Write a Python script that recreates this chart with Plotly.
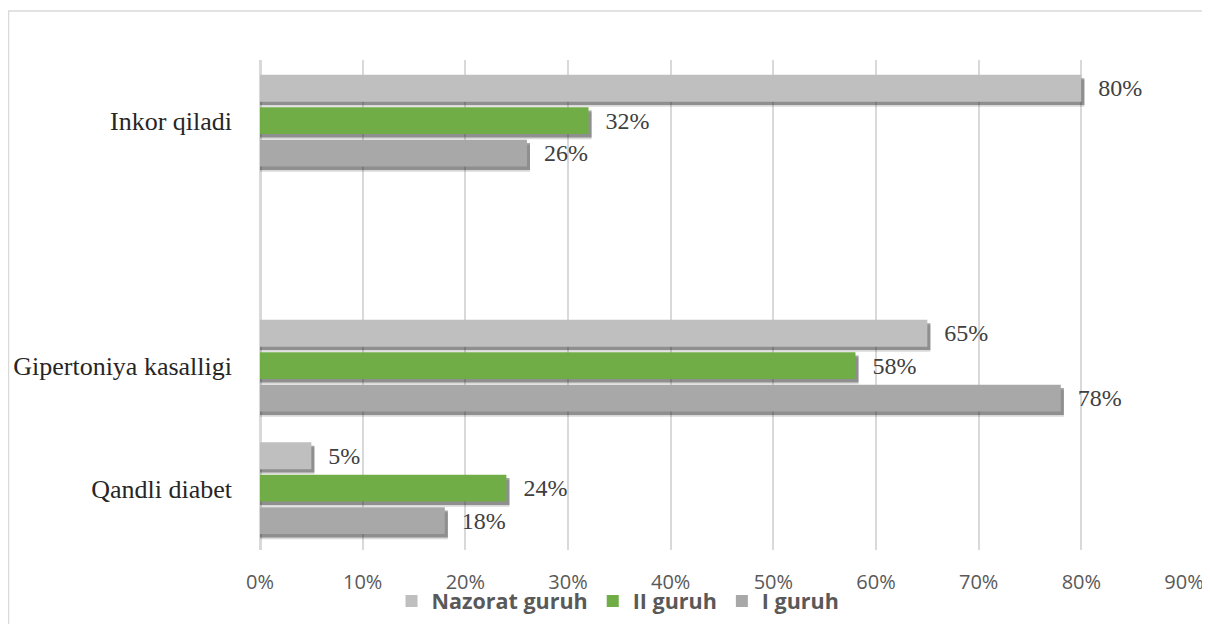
import plotly.graph_objects as go

categories = ["Qandli diabet", "Gipertoniya kasalligi", "", "Inkor qiladi"]
nazorat = [0.05, 0.65, None, 0.80]
guruh2 = [0.24, 0.58, None, 0.32]
guruh1 = [0.18, 0.78, None, 0.26]
x_ticks = [0, 0.1, 0.2, 0.3, 0.4, 0.5, 0.6, 0.7, 0.8, 0.9]

series = [
    ("Nazorat guruh", nazorat, "#BFBFBF", 0.16),
    ("II guruh", guruh2, "#70AD47", -0.105),
    ("I guruh", guruh1, "#A8A8A8", -0.37),
]
BW = 0.22
ypos = list(range(len(categories)))

fig = go.Figure()
# soft shadows under the bars
for name, vals, col, off in series:
    sx = [v + 0.003 if v is not None else None for v in vals]
    fig.add_trace(go.Bar(
        x=sx, y=ypos, orientation="h", offset=off - 0.042, width=BW,
        marker=dict(color="rgba(0,0,0,0.15)", line=dict(width=0)),
        showlegend=False, hoverinfo="skip"))
    fig.add_trace(go.Bar(
        x=sx, y=ypos, orientation="h", offset=off - 0.028, width=BW,
        marker=dict(color="rgba(40,40,40,0.42)", line=dict(width=0)),
        showlegend=False, hoverinfo="skip"))
# bars
for name, vals, col, off in series:
    txt = ["\u2002\u200a" + f"{round(v*100)}%" if v is not None else "" for v in vals]
    fig.add_trace(go.Bar(
        x=vals, y=ypos, orientation="h", offset=off, width=BW, name=name,
        marker=dict(color=col, line=dict(width=0)),
        text=txt, textposition="outside", constraintext="none", cliponaxis=False,
        textfont=dict(family="Liberation Serif", size=24, color="#404040")))

fig.update_layout(
    width=1202, height=616,
    barmode="overlay",
    paper_bgcolor="white", plot_bgcolor="white",
    margin=dict(l=252, r=26, t=52, b=74, autoexpand=False),
    showlegend=True,
    legend=dict(orientation="h", xref="container", yref="container",
                x=0.5075, xanchor="center", y=0.0373, yanchor="middle",
                font=dict(family="Open Sans", size=21.5, color="#595959", weight="bold"),
                bgcolor="rgba(0,0,0,0)", itemwidth=30, traceorder="normal"),
    xaxis=dict(range=[0, 0.9], tickvals=x_ticks, tickformat=".0%",
               showgrid=True, gridcolor="#D9D9D9", gridwidth=1.5,
               zeroline=True, zerolinecolor="#D9D9D9", zerolinewidth=2.5,
               showline=False, ticks="", ticklabelstandoff=18, automargin=False,
               tickfont=dict(family="Open Sans", size=20, color="#595959")),
    yaxis=dict(range=[-0.5, 3.5], tickvals=ypos, ticktext=categories,
               showgrid=False, zeroline=False, showline=False, ticks="",
               ticklabelstandoff=27, automargin=False,
               tickfont=dict(family="Liberation Serif", size=26, color="#262626")),
    shapes=[dict(type="rect", xref="paper", yref="paper",
                 x0=-0.2722, x1=1.2, y0=-0.3, y1=1.1,
                 line=dict(color="#D9D9D9", width=1.5), fillcolor="rgba(0,0,0,0)",
                 layer="below")],
)

fig.write_html("out.html")
